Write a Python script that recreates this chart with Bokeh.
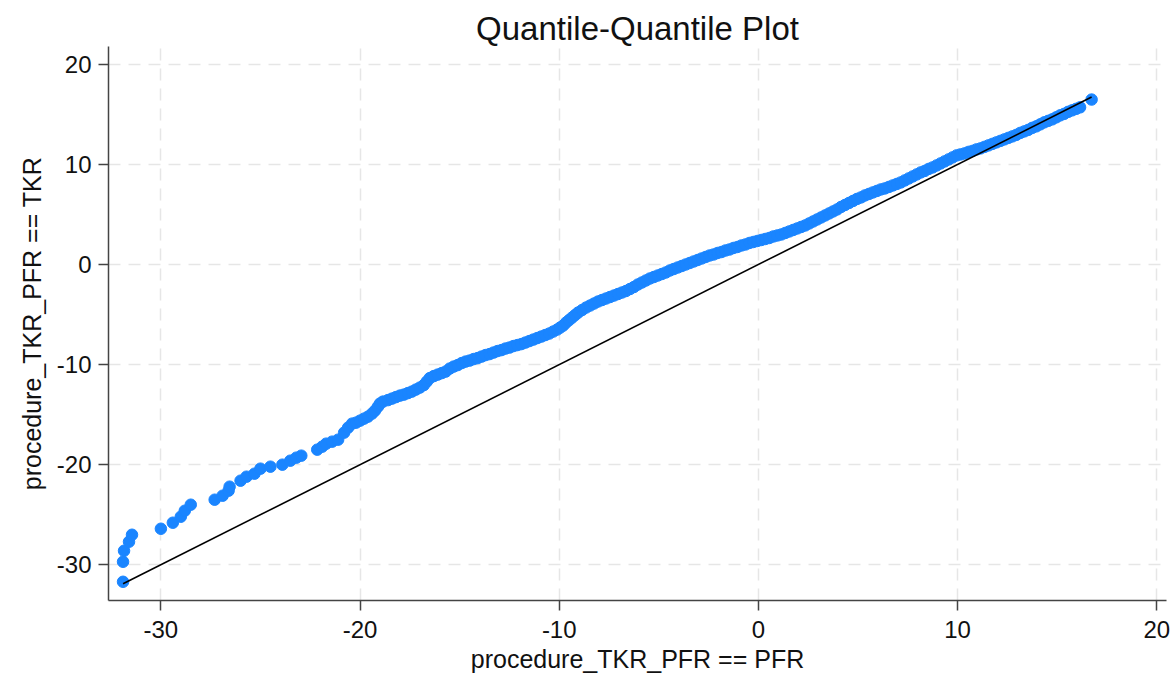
from bokeh.plotting import figure
from bokeh.models import FixedTicker, Range1d
from bokeh.embed import file_html
from bokeh.resources import INLINE

# Quantiles (x: PFR group, y: TKR group)
pfr_q = [-31.9, -31.9, -31.85, -31.6, -31.45, -30.0, -29.4, -29.0, -28.8, -28.5,
         -27.3, -26.9, -26.6, -26.55, -26.0, -25.7, -25.3, -25.0, -24.5, -23.9,
         -23.5, -23.2, -22.95, -22.15, -21.9, -21.7, -21.4, -21.1, -20.8, -20.6,
         -20.4, -20.2, -20.0, -19.8, -19.6, -19.4, -19.25, -19.1, -19.0, -18.85,
         -18.6, -18.4, -18.2, -18.0, -17.8, -17.6, -17.4, -17.2, -17.0, -16.8,
         -16.65, -16.5, -16.3, -16.1, -15.9, -15.7, -15.5, -15.3, -15.1, -14.9,
         -14.7, -14.5, -14.3, -14.1, -13.9, -13.7, -13.5, -13.3, -13.1, -12.9,
         -12.7, -12.5, -12.3, -12.1, -11.9, -11.7, -11.5, -11.3, -11.1, -10.9,
         -10.7, -10.5, -10.3, -10.1, -9.95, -9.8, -9.65, -9.5, -9.35, -9.2,
         -9.05, -8.85, -8.65, -8.45, -8.25, -8.05, -7.85, -7.65, -7.45, -7.25,
         -7.05, -6.85, -6.65, -6.45, -6.25, -6.05, -5.85, -5.65, -5.45, -5.25,
         -5.05, -4.85, -4.65, -4.45, -4.25, -4.05, -3.85, -3.65, -3.45, -3.25,
         -3.05, -2.85, -2.65, -2.45, -2.25, -2.05, -1.85, -1.65, -1.45, -1.25,
         -1.05, -0.85, -0.65, -0.45, -0.25, -0.05, 0.15, 0.35, 0.55, 0.75,
         0.95, 1.15, 1.35, 1.55, 1.75, 1.95, 2.15, 2.35, 2.55, 2.75,
         2.95, 3.15, 3.35, 3.55, 3.75, 3.95, 4.15, 4.35, 4.55, 4.75,
         4.95, 5.15, 5.35, 5.55, 5.75, 5.95, 6.15, 6.35, 6.55, 6.75,
         6.95, 7.15, 7.35, 7.55, 7.75, 7.95, 8.15, 8.35, 8.55, 8.75,
         8.95, 9.15, 9.35, 9.55, 9.75, 9.95, 10.15, 10.35, 10.55, 10.75,
         10.95, 11.15, 11.35, 11.55, 11.75, 11.95, 12.15, 12.35, 12.55, 12.75,
         12.95, 13.15, 13.35, 13.55, 13.75, 13.95, 14.15, 14.35, 14.55, 14.75,
         14.95, 15.15, 15.35, 15.55, 15.75, 15.95, 16.15, 16.73]
tkr_q = [-31.7, -29.7, -28.6, -27.7, -27.0, -26.4, -25.8, -25.2, -24.6, -24.0,
         -23.5, -23.1, -22.6, -22.2, -21.6, -21.2, -20.9, -20.4, -20.2, -20.0,
         -19.6, -19.3, -19.1, -18.5, -18.2, -17.9, -17.7, -17.5, -16.8, -16.3,
         -15.9, -15.8, -15.6, -15.4, -15.2, -14.9, -14.6, -14.2, -13.9, -13.7,
         -13.55, -13.4, -13.25, -13.1, -13.0, -12.85, -12.7, -12.5, -12.3, -12.05,
         -11.7, -11.35, -11.15, -11.0, -10.85, -10.7, -10.4, -10.2, -10.05, -9.85,
         -9.7, -9.6, -9.45, -9.35, -9.2, -9.05, -8.95, -8.8, -8.65, -8.55,
         -8.4, -8.3, -8.15, -8.05, -7.95, -7.8, -7.65, -7.5, -7.35, -7.2,
         -7.05, -6.9, -6.7, -6.5, -6.3, -6.1, -5.8, -5.55, -5.3, -5.05,
         -4.8, -4.55, -4.3, -4.1, -3.9, -3.7, -3.55, -3.4, -3.25, -3.1,
         -2.95, -2.8, -2.65, -2.45, -2.25, -2.0, -1.8, -1.6, -1.4, -1.25,
         -1.1, -0.95, -0.8, -0.6, -0.45, -0.3, -0.15, 0.0, 0.15, 0.3,
         0.45, 0.6, 0.75, 0.9, 1.0, 1.15, 1.25, 1.4, 1.5, 1.65,
         1.75, 1.9, 2.0, 2.15, 2.25, 2.35, 2.45, 2.55, 2.65, 2.8,
         2.9, 3.0, 3.15, 3.3, 3.45, 3.6, 3.75, 3.9, 4.1, 4.3,
         4.5, 4.7, 4.9, 5.1, 5.3, 5.5, 5.75, 5.95, 6.15, 6.35,
         6.55, 6.7, 6.9, 7.05, 7.2, 7.35, 7.5, 7.6, 7.75, 7.9,
         8.05, 8.2, 8.4, 8.6, 8.8, 9.0, 9.2, 9.35, 9.55, 9.7,
         9.9, 10.1, 10.3, 10.5, 10.7, 10.9, 11.0, 11.1, 11.25, 11.35,
         11.5, 11.6, 11.75, 11.9, 12.05, 12.2, 12.35, 12.5, 12.65, 12.8,
         12.95, 13.15, 13.3, 13.45, 13.65, 13.8, 14.0, 14.2, 14.35, 14.5,
         14.7, 14.9, 15.05, 15.25, 15.4, 15.55, 15.7, 16.48]

x_ticks = [-30, -20, -10, 0, 10, 20]
y_ticks = [-30, -20, -10, 0, 10, 20]
tick_labels = ["-30", "-20", "-10", "0", "10", "20"]

title_text = "Quantile-Quantile Plot"
x_label = "procedure_TKR_PFR == PFR"
y_label = "procedure_TKR_PFR == TKR"

FONT = "Liberation Sans"
TEXT = "#111111"

p = figure(width=1174, height=681, output_backend="svg", toolbar_location=None,
           x_range=Range1d(-32.63, 20.49), y_range=Range1d(-33.57, 21.78),
           min_border_left=108, min_border_right=8, min_border_top=46,
           min_border_bottom=81)

p.title.text = title_text
p.title.align = "center"
p.title.text_font = FONT
p.title.text_font_size = "33px"
p.title.text_font_style = "normal"
p.title.text_color = TEXT
p.title.standoff = 0
p.title.offset = 0

p.outline_line_color = None
p.background_fill_color = "white"
p.border_fill_color = "white"

for ax, ticks, lab in ((p.xaxis[0], x_ticks, x_label), (p.yaxis[0], y_ticks, y_label)):
    ax.ticker = FixedTicker(ticks=ticks)
    ax.major_label_overrides = {t: s for t, s in zip(ticks, tick_labels)}
    ax.axis_label = lab
    ax.axis_label_text_font = FONT
    ax.axis_label_text_font_size = "25px"
    ax.axis_label_text_font_style = "normal"
    ax.axis_label_text_color = TEXT
    ax.major_label_text_font = FONT
    ax.major_label_text_font_size = "24px"
    ax.major_label_text_color = TEXT
    ax.axis_line_color = "#444444"
    ax.axis_line_width = 1.5
    ax.major_tick_line_color = "#444444"
    ax.major_tick_line_width = 1.5
    ax.major_tick_out = 10
    ax.major_tick_in = 0
    ax.minor_tick_line_color = None

p.xaxis[0].major_label_standoff = 10
p.xaxis[0].axis_label_standoff = 4
p.yaxis[0].major_label_standoff = 7
p.yaxis[0].axis_label_standoff = 8
p.yaxis[0].major_label_orientation = "horizontal"

for g, ticks in ((p.xgrid[0], x_ticks), (p.ygrid[0], y_ticks)):
    g.ticker = FixedTicker(ticks=ticks)
    g.grid_line_color = "#e6e6e6"
    g.grid_line_width = 1.5
    g.grid_line_dash = "12 8"

p.scatter(pfr_q, tkr_q, size=11.5, fill_color="#1a85ff", line_color="#1a85ff",
          line_width=1)

xmin, xmax = min(pfr_q), max(pfr_q)
p.line([xmin, xmax], [xmin, xmax], line_color="black", line_width=1.6)

open("out.html", "w").write(file_html(p, INLINE))
